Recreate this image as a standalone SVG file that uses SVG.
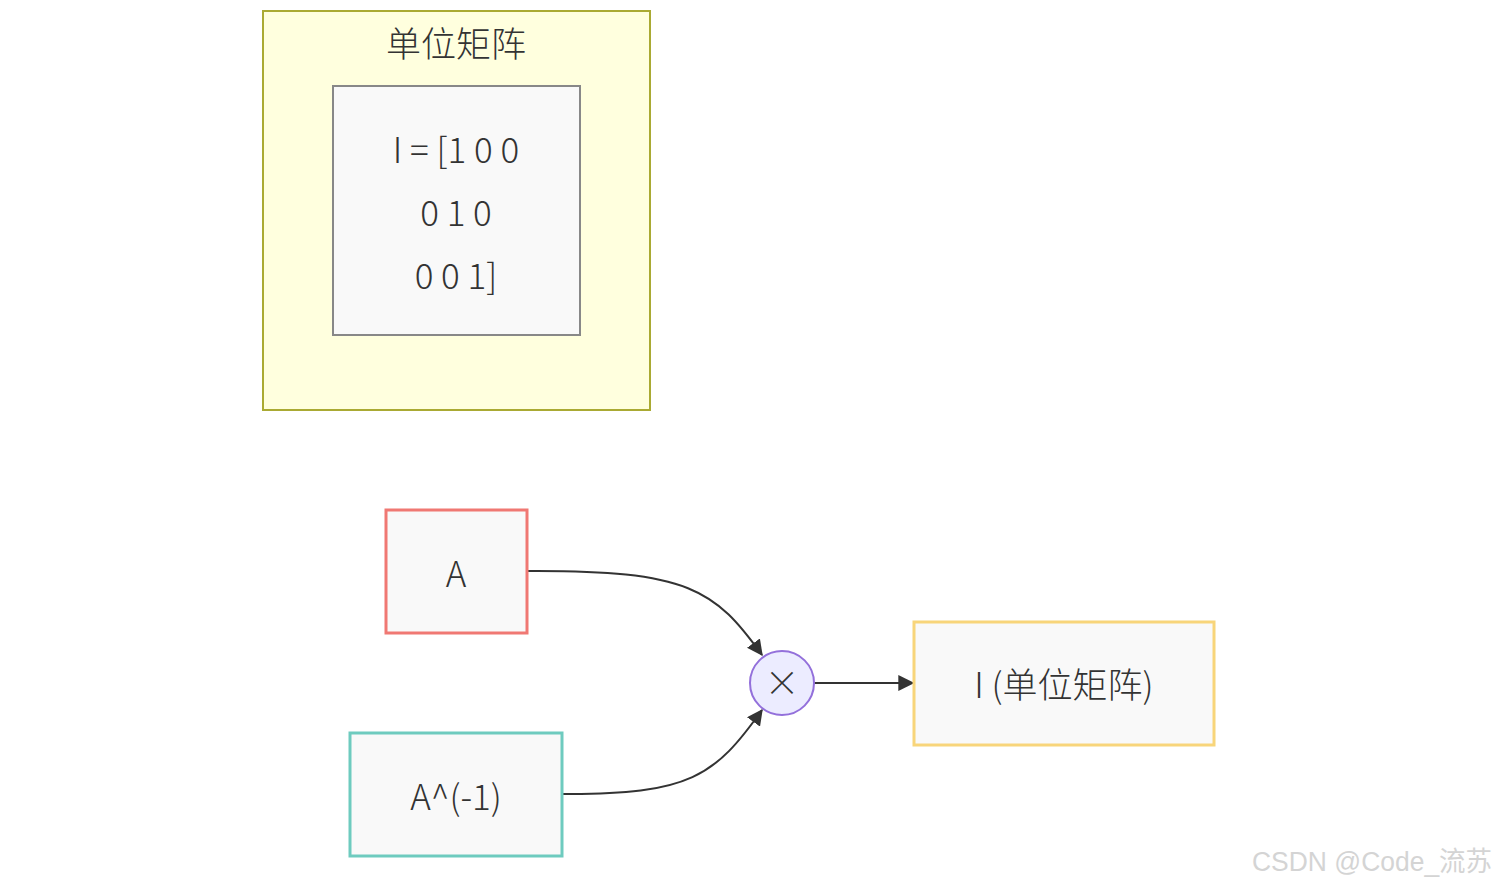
<svg xmlns="http://www.w3.org/2000/svg" width="1499" height="887" viewBox="0 0 1499 887">
<style>
.t{font-family:"Noto Sans CJK SC","Noto Sans",sans-serif;font-weight:300;font-size:35px;fill:#333;text-anchor:middle}
.box{fill:#f9f9f9;stroke-width:3}
.edge{fill:none;stroke:#333;stroke-width:2}
.wm{font-family:"Liberation Sans","Noto Sans CJK SC",sans-serif;font-size:27px;fill:#d4d4d4}
</style>
<defs>
<marker id="arrow" viewBox="0 0 12 12" refX="11" refY="6" markerWidth="16" markerHeight="16" markerUnits="userSpaceOnUse" orient="auto">
<path d="M0,0 L12,6 L0,12 z" fill="#333"/>
</marker>
</defs>
<rect width="1499" height="887" fill="#fff"/>
<g id="cluster">
<rect x="263" y="11" width="387" height="399" fill="#ffffde" stroke="#aaaa33" stroke-width="2"/>
<text class="t" x="456" y="57">单位矩阵</text>
</g>
<g id="identity">
<rect x="333" y="86" width="247" height="249" fill="#f9f9f9" stroke="#888" stroke-width="2"/>
<text class="t" x="456" y="163">I = [1 0 0</text>
<text class="t" x="456" y="226">0 1 0</text>
<text class="t" x="456" y="289">0 0 1]</text>
</g>
<g id="edges">
<path class="edge" d="M527,571 C690,570 715,590 762,655" marker-end="url(#arrow)"/>
<path class="edge" d="M562,794 C690,795 715,776 762,710" marker-end="url(#arrow)"/>
<path class="edge" d="M814,683 L913,683" marker-end="url(#arrow)"/>
</g>
<g id="A">
<rect class="box" x="386" y="510" width="141" height="123" stroke="#f07873"/>
<text class="t" x="456" y="587">A</text>
</g>
<g id="Ainv">
<rect class="box" x="350" y="733" width="212" height="123" stroke="#6ecbbf"/>
<text class="t" x="456" y="810">A^(-1)</text>
</g>
<g id="mul">
<circle cx="782" cy="683" r="32" fill="#ececff" stroke="#9370db" stroke-width="2"/>
<text class="t" x="782" y="696">×</text>
</g>
<g id="I">
<rect class="box" x="914" y="622" width="300" height="123" stroke="#f8d57a"/>
<text class="t" x="1064" y="698">I (单位矩阵)</text>
</g>
<text class="wm" x="1252" y="871" textLength="240" lengthAdjust="spacingAndGlyphs">CSDN @Code_流苏</text>
</svg>
